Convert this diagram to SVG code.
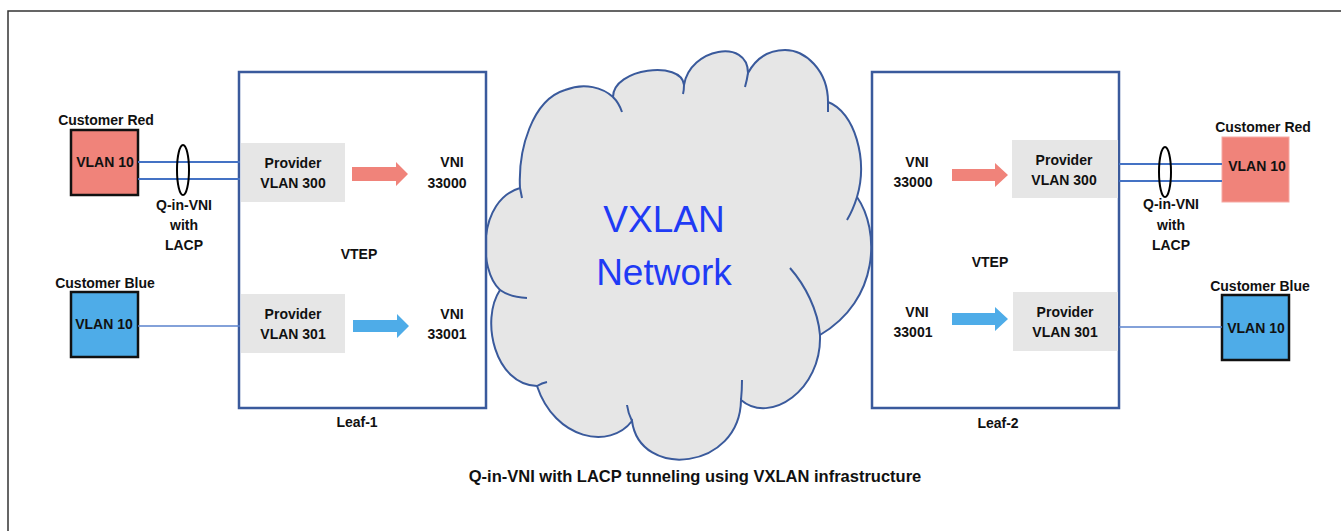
<svg xmlns="http://www.w3.org/2000/svg" width="1341" height="531" viewBox="0 0 1341 531">
<style>
text{font-family:"Liberation Sans",Arial,sans-serif;font-weight:bold;font-size:14px;fill:#111;text-anchor:middle}
.leaf{fill:#fff;stroke:#3A5A9C;stroke-width:2.5}
.prov{fill:#E6E6E6}
.red{fill:#F0837A}
.blue{fill:#4EACE8}
.blk{stroke:#111;stroke-width:2.5}
.link{stroke:#4472C4;stroke-width:2;fill:none}
.link1{stroke:#5A82CC;stroke-width:1.5;fill:none}
.lacp{fill:none;stroke:#000;stroke-width:2}
.cloud{fill:#E6E6E6;stroke:#3A5A9C;stroke-width:2}
.tail{fill:none;stroke:#3A5A9C;stroke-width:2}
</style>
<path d="M8,531 V11 H1341" fill="none" stroke="#333" stroke-width="1.5"/>

<g id="cloud">
<path class="cloud" d="M520,188 C518,150 532,100 565,90 C585,82 603,88 613,97 C613,68 682,60 684,85 C690,48 748,38 748,73 C758,55 772,50 785,50 C805,50 828,70 828,102 C855,112 868,160 857,197 C880,230 880,300 820,335 C822,390 770,425 741,400 C740,470 640,480 632,421 C610,450 555,440 537,386 C495,385 480,320 500,290 C478,270 478,200 520,188 Z"/>
<path class="tail" d="M520,188 Q521,193 522,198 M613,97 Q619,103 622,112 M684,85 Q684,90 683,94 M748,73 Q747,80 745,87 M828,102 L828,112 M857,197 Q853,210 847,220 M790,268 C805,285 818,310 820,335 M741,400 Q742,390 742,380 M632,421 Q628,413 627,405 M537,386 Q542,383 547,382 M500,290 Q510,297 527,298"/>
<text x="664" y="232" style="font-weight:normal;font-size:37px;fill:#1F3BF5">VXLAN</text>
<text x="664" y="285" style="font-weight:normal;font-size:37px;fill:#1F3BF5">Network</text>
</g>

<g id="leaf1">
<rect class="leaf" x="239" y="72" width="247" height="336"/>
<text x="359" y="259">VTEP</text>
<text x="357" y="427">Leaf-1</text>
</g>
<g id="leaf1-prov300">
<rect class="prov" x="241" y="143" width="104" height="59"/>
<text x="293" y="168">Provider</text>
<text x="293" y="188">VLAN 300</text>
</g>
<g id="leaf1-vni33000">
<text x="452" y="167">VNI</text>
<text x="447" y="188">33000</text>
</g>
<g id="leaf1-prov301">
<rect class="prov" x="241" y="294" width="104" height="59"/>
<text x="293" y="319">Provider</text>
<text x="293" y="339">VLAN 301</text>
</g>
<g id="leaf1-vni33001">
<text x="452" y="319">VNI</text>
<text x="447" y="339">33001</text>
</g>

<g id="leaf2">
<rect class="leaf" x="872" y="72" width="247" height="336"/>
<text x="990" y="267">VTEP</text>
<text x="998" y="428">Leaf-2</text>
</g>
<g id="leaf2-vni33000">
<text x="917" y="167">VNI</text>
<text x="913" y="187">33000</text>
</g>
<g id="leaf2-prov300">
<rect class="prov" x="1012" y="140" width="106" height="58"/>
<text x="1064" y="165">Provider</text>
<text x="1064" y="185">VLAN 300</text>
</g>
<g id="leaf2-vni33001">
<text x="917" y="317">VNI</text>
<text x="913" y="337">33001</text>
</g>
<g id="leaf2-prov301">
<rect class="prov" x="1013" y="292" width="105" height="59"/>
<text x="1065" y="317">Provider</text>
<text x="1065" y="337">VLAN 301</text>
</g>

<g id="cust-red-left">
<text x="106" y="125">Customer Red</text>
<rect class="red blk" x="71" y="130" width="67" height="65"/>
<text x="105" y="167">VLAN 10</text>
</g>
<g id="cust-blue-left">
<text x="105" y="288">Customer Blue</text>
<rect class="blue blk" x="71" y="292" width="67" height="65"/>
<text x="104" y="329">VLAN 10</text>
</g>
<g id="cust-red-right">
<text x="1263" y="132">Customer Red</text>
<rect class="red" x="1222" y="137" width="67" height="65" stroke="#F6A9A3" stroke-width="1"/>
<text x="1257" y="171">VLAN 10</text>
</g>
<g id="cust-blue-right">
<text x="1260" y="291">Customer Blue</text>
<rect class="blue blk" x="1222" y="295" width="67" height="65"/>
<text x="1256" y="333">VLAN 10</text>
</g>

<g id="connectors">
<path class="link" d="M138,162 H240 M138,179 H240"/>
<ellipse class="lacp" cx="183" cy="170" rx="6" ry="25"/>
<path class="link1" d="M138,326 H240"/>
<path class="link" d="M1119,164 H1222 M1119,181 H1222"/>
<ellipse class="lacp" cx="1165" cy="172" rx="6" ry="25"/>
<path class="link1" d="M1119,327 H1222"/>
<polygon class="red" points="352,167 396,167 396,162 408,174 396,186 396,181 352,181"/>
<polygon class="blue" points="353,320 397,320 397,314 409,326 397,338 397,332 353,332"/>
<polygon class="red" points="952,169 995,169 995,163 1008,175 995,187 995,181 952,181"/>
<polygon class="blue" points="952,313 995,313 995,307 1008,319 995,331 995,325 952,325"/>
</g>

<g id="labels">
<text x="184" y="210">Q-in-VNI</text>
<text x="184" y="230">with</text>
<text x="184" y="250">LACP</text>
<text x="1171" y="209">Q-in-VNI</text>
<text x="1171" y="230">with</text>
<text x="1171" y="250">LACP</text>
<text x="695" y="482" style="font-size:16.5px">Q-in-VNI with LACP tunneling using VXLAN infrastructure</text>
</g>
</svg>
